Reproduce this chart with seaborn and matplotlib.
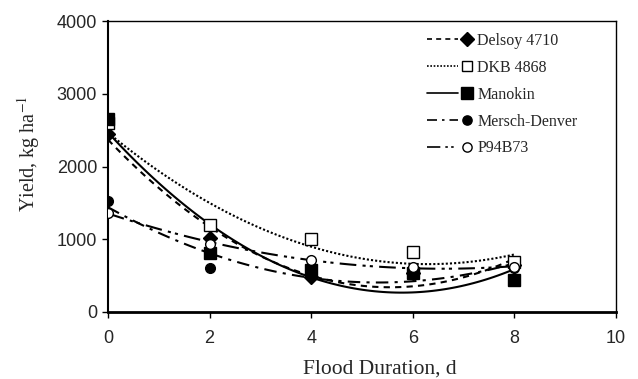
import numpy as np
import pandas as pd
import matplotlib
matplotlib.use("Agg")
import matplotlib.pyplot as plt
import seaborn as sns
from matplotlib.lines import Line2D
from matplotlib.legend_handler import HandlerBase

# ---- data ----
flood_days = [0, 2, 4, 6, 8]
delsoy_4710 = [2450, 1015, 480, 535, 645]
dkb_4868 = [2600, 1195, 1000, 830, 690]
manokin = [2650, 810, 575, 535, 440]
mersch_denver = [1530, 610, 530, 540, 600]
p94b73 = [1365, 940, 715, 620, 620]
x_ticks = [0, 2, 4, 6, 8, 10]
y_ticks = [0, 1000, 2000, 3000, 4000]

series_names = ["Delsoy 4710", "DKB 4868", "Manokin", "Mersch-Denver", "P94B73"]
series_values = [delsoy_4710, dkb_4868, manokin, mersch_denver, p94b73]

styles = {
    "Delsoy 4710": dict(ls=(0, (3, 2.5)), marker="D", mfc="black", ms=7),
    "DKB 4868": dict(ls=(0, (1, 1)), marker="s", mfc="white", ms=8),
    "Manokin": dict(ls="-", marker="s", mfc="black", ms=9),
    "Mersch-Denver": dict(ls=(0, (6, 3, 1.5, 3)), marker="o", mfc="black", ms=7),
    "P94B73": dict(ls=(0, (8, 3, 1.5, 2, 1.5, 3)), marker="o", mfc="white", ms=7),
}


class LineThenMarker(HandlerBase):
    """Legend handle: line segment on the left, marker to its right."""

    def create_artists(self, legend, orig_handle, xdescent, ydescent,
                       width, height, fontsize, trans):
        ln, mk = orig_handle
        y = height / 2 - ydescent
        x0 = -xdescent
        line = Line2D([x0, x0 + width * 0.64], [y, y])
        line.update_from(ln)
        line.set_transform(trans)
        marker = Line2D([x0 + width * 0.84], [y])
        marker.update_from(mk)
        marker.set_transform(trans)
        return [line, marker]


sns.set_style("ticks")
plt.rcParams["font.family"] = ["Liberation Serif", "DejaVu Serif"]
plt.rcParams["mathtext.fontset"] = "stix"

fig = plt.figure(figsize=(6.38, 3.79), dpi=100)
ax = fig.add_axes([108 / 638, 1 - 312 / 379, (616 - 108) / 638, (312 - 21) / 379])

handles = []
for name, vals in zip(series_names, series_values):
    st = styles[name]
    df = pd.DataFrame({"x": flood_days, "y": vals})
    # fitted 2nd-order trendline
    sns.regplot(data=df, x="x", y="y", order=2, ci=None, scatter=False, ax=ax,
                line_kws=dict(color="black", lw=1.5, ls=st["ls"]), truncate=True)
for name, vals in zip(series_names, series_values):
    st = styles[name]
    df = pd.DataFrame({"x": flood_days, "y": vals})
    ax.plot(df["x"], df["y"], ls="none", marker=st["marker"], ms=st["ms"],
            mfc=st["mfc"], mec="black", mew=1.0, zorder=5)
    ln = Line2D([], [], color="black", lw=1.2, ls=st["ls"])
    mk = Line2D([], [], ls="none", marker=st["marker"], ms=st["ms"] * 0.95,
                mfc=st["mfc"], mec="black", mew=1.0)
    handles.append((ln, mk))

ax.set_xlim(0, 10)
ax.set_ylim(0, 4000)
ax.set_xticks(x_ticks)
ax.set_yticks(y_ticks)
ax.set_xticklabels([str(t) for t in x_ticks], family="Liberation Sans", fontsize=13)
ax.set_yticklabels([str(t) for t in y_ticks], family="Liberation Sans", fontsize=13)
ax.tick_params(axis="both", direction="out", length=4.3, width=1, color="black")
ax.tick_params(axis="x", pad=9)
ax.tick_params(axis="y", pad=3.5)
ax.set_xlabel("Flood Duration, d", fontsize=15.5)
ax.set_ylabel("Yield, kg ha$^{-1}$", fontsize=14.5)
ax.xaxis.set_label_coords((380 - 108) / 508, -(360 - 312) / 291)
ax.yaxis.set_label_coords(-(108 - 42) / 508, (312 - 154) / 291)

for side in ["top", "right"]:
    ax.spines[side].set_visible(True)
    ax.spines[side].set_linewidth(1.0)
    ax.spines[side].set_color("black")
ax.spines["left"].set_linewidth(1.5)
ax.spines["bottom"].set_linewidth(2.0)
ax.spines["left"].set_color("black")
ax.spines["bottom"].set_color("black")

leg = fig.legend(handles, series_names, loc="upper left",
                 bbox_to_anchor=(427 / 638, 1 - 33 / 379),
                 handler_map={tuple: LineThenMarker()},
                 frameon=False, fontsize=11.5, handlelength=3.0,
                 handletextpad=0.15, labelspacing=0.68, borderaxespad=0,
                 borderpad=0)

fig.savefig("out.png", dpi=100)
